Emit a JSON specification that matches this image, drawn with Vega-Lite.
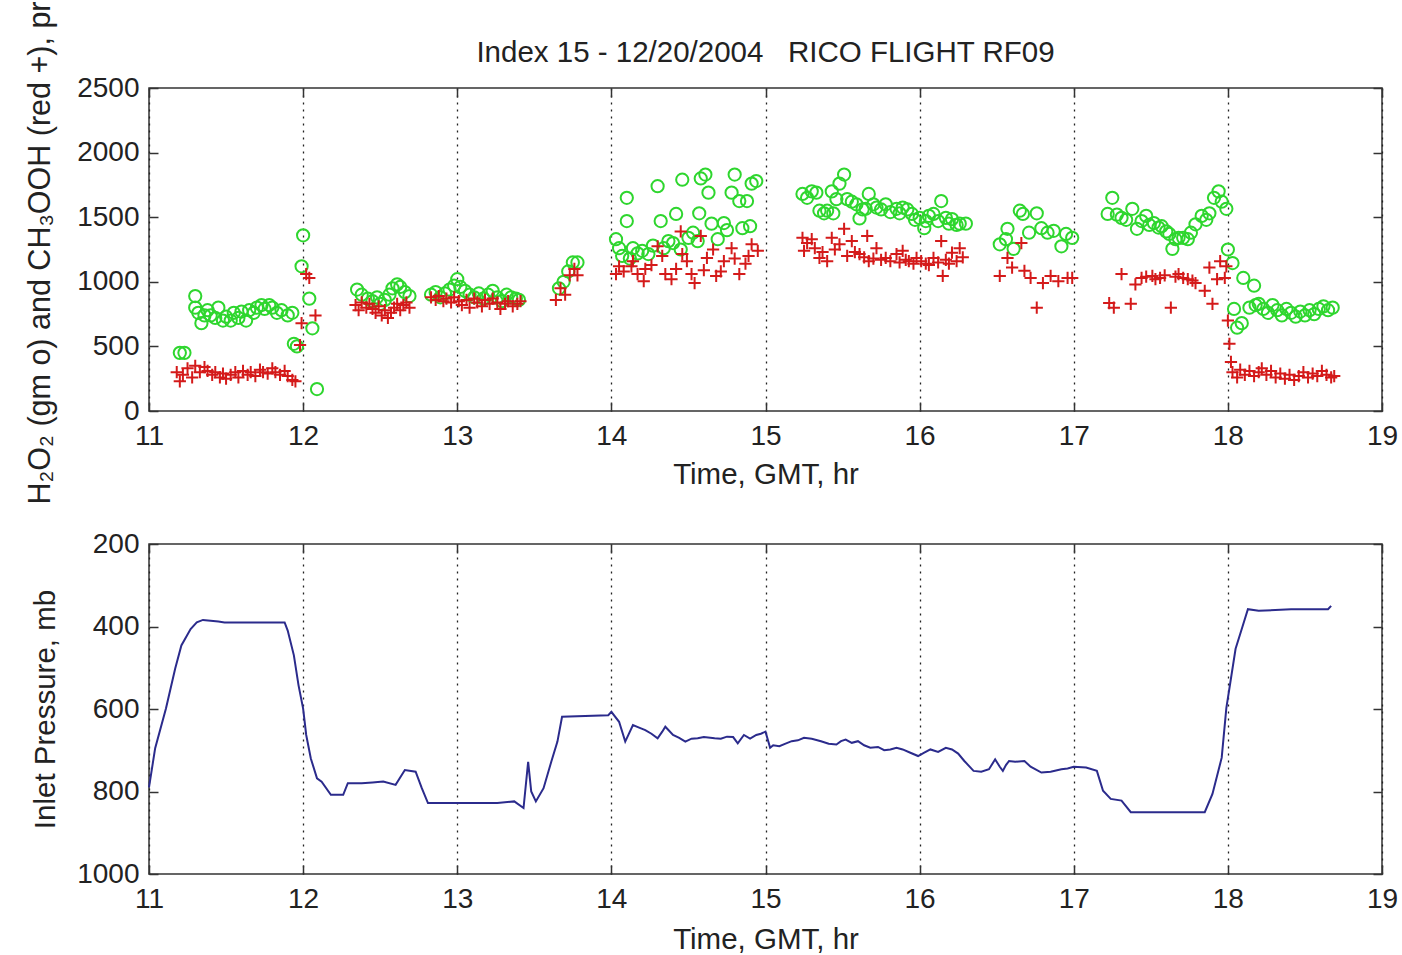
{
  "$schema": "https://vega.github.io/schema/vega-lite/v6.json",
  "background": "white",
  "padding": {"left": 24, "top": 0, "right": 5, "bottom": 0},
  "title": {"text": "Index 15 - 12/20/2004\u00a0\u00a0\u00a0RICO FLIGHT RF09", "anchor": "middle", "frame": "group", "font": "Liberation Sans", "fontSize": 29.5, "fontWeight": "normal", "color": "#222", "offset": -68},
  "spacing": 133,
  "bounds": "flush",
  "datasets": {
    "h2o2": [
      {"t":11.2,"v":450},{"t":11.23,"v":450},{"t":11.3,"v":890},{"t":11.3,"v":800},{"t":11.32,"v":760},{"t":11.34,"v":680},{"t":11.36,"v":740},{"t":11.38,"v":780},{"t":11.4,"v":740},{"t":11.43,"v":720},{"t":11.45,"v":800},{"t":11.48,"v":700},{"t":11.5,"v":730},{"t":11.53,"v":700},{"t":11.55,"v":760},{"t":11.58,"v":720},{"t":11.6,"v":770},{"t":11.63,"v":700},{"t":11.65,"v":780},{"t":11.68,"v":760},{"t":11.7,"v":800},{"t":11.73,"v":820},{"t":11.75,"v":790},{"t":11.78,"v":820},{"t":11.8,"v":800},{"t":11.83,"v":760},{"t":11.86,"v":780},{"t":11.9,"v":740},{"t":11.93,"v":760},{"t":11.94,"v":520},{"t":11.96,"v":500},{"t":11.99,"v":1120},{"t":12.0,"v":1360},{"t":12.04,"v":870},{"t":12.06,"v":640},{"t":12.09,"v":170},
      {"t":12.35,"v":940},{"t":12.38,"v":900},{"t":12.42,"v":870},{"t":12.45,"v":850},{"t":12.48,"v":880},{"t":12.5,"v":830},{"t":12.53,"v":860},{"t":12.56,"v":900},{"t":12.58,"v":950},{"t":12.61,"v":980},{"t":12.63,"v":960},{"t":12.66,"v":920},{"t":12.69,"v":890},
      {"t":12.83,"v":900},{"t":12.86,"v":920},{"t":12.89,"v":880},{"t":12.92,"v":910},{"t":12.95,"v":940},{"t":12.98,"v":970},{"t":13.0,"v":1020},{"t":13.02,"v":960},{"t":13.05,"v":930},{"t":13.08,"v":900},{"t":13.11,"v":880},{"t":13.14,"v":910},{"t":13.17,"v":870},{"t":13.2,"v":900},{"t":13.23,"v":930},{"t":13.26,"v":880},{"t":13.29,"v":850},{"t":13.32,"v":900},{"t":13.35,"v":880},{"t":13.38,"v":870},{"t":13.4,"v":860},
      {"t":13.66,"v":950},{"t":13.69,"v":1000},{"t":13.72,"v":1080},{"t":13.75,"v":1150},{"t":13.78,"v":1150},
      {"t":14.03,"v":1330},{"t":14.05,"v":1260},{"t":14.07,"v":1200},{"t":14.1,"v":1650},{"t":14.1,"v":1470},{"t":14.12,"v":1180},{"t":14.14,"v":1260},{"t":14.17,"v":1220},{"t":14.2,"v":1240},{"t":14.24,"v":1215},{"t":14.27,"v":1280},{"t":14.3,"v":1740},{"t":14.32,"v":1470},{"t":14.34,"v":1260},{"t":14.37,"v":1315},{"t":14.4,"v":1300},{"t":14.42,"v":1525},{"t":14.45,"v":1250},{"t":14.46,"v":1790},{"t":14.5,"v":1340},{"t":14.53,"v":1380},{"t":14.56,"v":1315},{"t":14.57,"v":1530},{"t":14.58,"v":1800},{"t":14.61,"v":1830},{"t":14.63,"v":1690},{"t":14.65,"v":1450},{"t":14.69,"v":1330},{"t":14.73,"v":1455},{"t":14.75,"v":1400},{"t":14.78,"v":1690},{"t":14.8,"v":1830},{"t":14.83,"v":1625},{"t":14.85,"v":1415},{"t":14.88,"v":1625},{"t":14.9,"v":1430},{"t":14.91,"v":1760},{"t":14.94,"v":1780},
      {"t":15.24,"v":1680},{"t":15.27,"v":1650},{"t":15.3,"v":1700},{"t":15.33,"v":1690},{"t":15.35,"v":1550},{"t":15.38,"v":1530},{"t":15.4,"v":1550},{"t":15.43,"v":1700},{"t":15.44,"v":1530},{"t":15.46,"v":1640},{"t":15.48,"v":1760},{"t":15.51,"v":1830},{"t":15.53,"v":1640},{"t":15.56,"v":1620},{"t":15.59,"v":1600},{"t":15.61,"v":1490},{"t":15.63,"v":1560},{"t":15.65,"v":1565},{"t":15.67,"v":1680},{"t":15.7,"v":1600},{"t":15.72,"v":1575},{"t":15.75,"v":1560},{"t":15.78,"v":1600},{"t":15.81,"v":1540},{"t":15.85,"v":1565},{"t":15.87,"v":1530},{"t":15.89,"v":1575},{"t":15.92,"v":1560},{"t":15.95,"v":1525},{"t":15.97,"v":1480},{"t":16.0,"v":1495},{"t":16.03,"v":1415},{"t":16.04,"v":1470},{"t":16.06,"v":1510},{"t":16.09,"v":1525},{"t":16.12,"v":1470},{"t":16.14,"v":1625},{"t":16.17,"v":1495},{"t":16.19,"v":1450},{"t":16.21,"v":1485},{"t":16.24,"v":1440},{"t":16.26,"v":1450},{"t":16.3,"v":1450},
      {"t":16.52,"v":1290},{"t":16.56,"v":1330},{"t":16.57,"v":1410},{"t":16.61,"v":1255},{"t":16.65,"v":1550},{"t":16.67,"v":1525},{"t":16.71,"v":1380},{"t":16.76,"v":1530},{"t":16.79,"v":1415},{"t":16.83,"v":1380},{"t":16.87,"v":1395},{"t":16.92,"v":1275},{"t":16.95,"v":1370},{"t":16.99,"v":1340},
      {"t":17.22,"v":1525},{"t":17.25,"v":1650},{"t":17.28,"v":1520},{"t":17.31,"v":1495},{"t":17.34,"v":1480},{"t":17.38,"v":1565},{"t":17.41,"v":1410},{"t":17.44,"v":1470},{"t":17.47,"v":1510},{"t":17.49,"v":1440},{"t":17.52,"v":1455},{"t":17.55,"v":1420},{"t":17.57,"v":1430},{"t":17.6,"v":1390},{"t":17.62,"v":1370},{"t":17.64,"v":1255},{"t":17.66,"v":1330},{"t":17.68,"v":1340},{"t":17.71,"v":1340},{"t":17.74,"v":1330},{"t":17.76,"v":1380},{"t":17.79,"v":1445},{"t":17.83,"v":1510},{"t":17.86,"v":1480},{"t":17.88,"v":1530},{"t":17.91,"v":1650},{"t":17.94,"v":1700},{"t":17.96,"v":1620},{"t":17.99,"v":1565},
      {"t":18.0,"v":1250},{"t":18.03,"v":1145},{"t":18.04,"v":790},{"t":18.06,"v":645},{"t":18.09,"v":680},{"t":18.1,"v":1030},{"t":18.14,"v":800},{"t":18.17,"v":970},{"t":18.18,"v":820},{"t":18.2,"v":830},{"t":18.23,"v":790},{"t":18.26,"v":760},{"t":18.29,"v":820},{"t":18.32,"v":780},{"t":18.35,"v":740},{"t":18.38,"v":790},{"t":18.41,"v":760},{"t":18.44,"v":730},{"t":18.47,"v":770},{"t":18.5,"v":740},{"t":18.53,"v":780},{"t":18.56,"v":750},{"t":18.59,"v":790},{"t":18.62,"v":810},{"t":18.65,"v":780},{"t":18.68,"v":800}
    ],
    "ch3ooh": [
      {"t":11.18,"v":300},{"t":11.2,"v":230},{"t":11.22,"v":280},{"t":11.25,"v":330},{"t":11.28,"v":260},{"t":11.3,"v":350},{"t":11.33,"v":300},{"t":11.36,"v":340},{"t":11.38,"v":310},{"t":11.41,"v":280},{"t":11.43,"v":300},{"t":11.46,"v":260},{"t":11.48,"v":290},{"t":11.5,"v":250},{"t":11.53,"v":280},{"t":11.56,"v":300},{"t":11.58,"v":260},{"t":11.61,"v":310},{"t":11.64,"v":280},{"t":11.66,"v":300},{"t":11.69,"v":270},{"t":11.72,"v":320},{"t":11.74,"v":300},{"t":11.77,"v":290},{"t":11.8,"v":330},{"t":11.82,"v":300},{"t":11.85,"v":280},{"t":11.88,"v":310},{"t":11.9,"v":270},{"t":11.93,"v":240},{"t":11.95,"v":230},{"t":11.98,"v":510},{"t":11.99,"v":680},{"t":12.02,"v":1060},{"t":12.04,"v":1030},{"t":12.08,"v":740},
      {"t":12.34,"v":820},{"t":12.36,"v":780},{"t":12.38,"v":840},{"t":12.41,"v":800},{"t":12.43,"v":830},{"t":12.45,"v":790},{"t":12.47,"v":760},{"t":12.49,"v":810},{"t":12.51,"v":740},{"t":12.53,"v":780},{"t":12.55,"v":720},{"t":12.57,"v":760},{"t":12.59,"v":800},{"t":12.61,"v":830},{"t":12.63,"v":780},{"t":12.65,"v":820},{"t":12.67,"v":840},{"t":12.69,"v":800},
      {"t":12.83,"v":880},{"t":12.86,"v":860},{"t":12.88,"v":890},{"t":12.91,"v":850},{"t":12.93,"v":870},{"t":12.96,"v":840},{"t":12.98,"v":880},{"t":13.01,"v":850},{"t":13.03,"v":820},{"t":13.06,"v":860},{"t":13.08,"v":800},{"t":13.11,"v":870},{"t":13.13,"v":840},{"t":13.16,"v":810},{"t":13.18,"v":860},{"t":13.21,"v":830},{"t":13.23,"v":870},{"t":13.26,"v":840},{"t":13.28,"v":790},{"t":13.31,"v":830},{"t":13.33,"v":850},{"t":13.36,"v":810},{"t":13.39,"v":830},{"t":13.41,"v":850},
      {"t":13.64,"v":860},{"t":13.67,"v":950},{"t":13.7,"v":900},{"t":13.73,"v":1050},{"t":13.76,"v":1100},{"t":13.78,"v":1050},
      {"t":14.03,"v":1060},{"t":14.05,"v":1120},{"t":14.08,"v":1080},{"t":14.13,"v":1120},{"t":14.14,"v":1160},{"t":14.17,"v":1060},{"t":14.21,"v":1005},{"t":14.22,"v":1100},{"t":14.26,"v":1130},{"t":14.3,"v":1275},{"t":14.33,"v":1200},{"t":14.35,"v":1060},{"t":14.39,"v":1020},{"t":14.42,"v":1100},{"t":14.45,"v":1390},{"t":14.46,"v":1215},{"t":14.49,"v":1160},{"t":14.52,"v":1060},{"t":14.54,"v":990},{"t":14.58,"v":1355},{"t":14.6,"v":1090},{"t":14.62,"v":1185},{"t":14.66,"v":1250},{"t":14.68,"v":1045},{"t":14.71,"v":1080},{"t":14.73,"v":1160},{"t":14.78,"v":1260},{"t":14.8,"v":1180},{"t":14.83,"v":1060},{"t":14.87,"v":1140},{"t":14.89,"v":1200},{"t":14.91,"v":1290},{"t":14.95,"v":1240},
      {"t":15.24,"v":1340},{"t":15.25,"v":1240},{"t":15.27,"v":1300},{"t":15.3,"v":1330},{"t":15.32,"v":1260},{"t":15.35,"v":1185},{"t":15.37,"v":1230},{"t":15.4,"v":1160},{"t":15.43,"v":1340},{"t":15.45,"v":1250},{"t":15.48,"v":1290},{"t":15.51,"v":1410},{"t":15.53,"v":1200},{"t":15.56,"v":1315},{"t":15.58,"v":1230},{"t":15.61,"v":1215},{"t":15.64,"v":1190},{"t":15.66,"v":1355},{"t":15.67,"v":1160},{"t":15.7,"v":1180},{"t":15.72,"v":1260},{"t":15.75,"v":1170},{"t":15.78,"v":1185},{"t":15.81,"v":1160},{"t":15.85,"v":1215},{"t":15.87,"v":1150},{"t":15.89,"v":1240},{"t":15.91,"v":1170},{"t":15.93,"v":1160},{"t":15.96,"v":1140},{"t":15.98,"v":1185},{"t":16.01,"v":1160},{"t":16.04,"v":1140},{"t":16.06,"v":1130},{"t":16.09,"v":1185},{"t":16.12,"v":1150},{"t":16.14,"v":1315},{"t":16.15,"v":1045},{"t":16.17,"v":1170},{"t":16.19,"v":1140},{"t":16.21,"v":1225},{"t":16.24,"v":1160},{"t":16.26,"v":1260},{"t":16.28,"v":1190},
      {"t":16.52,"v":1045},{"t":16.57,"v":1185},{"t":16.6,"v":1110},{"t":16.66,"v":1300},{"t":16.68,"v":1085},{"t":16.72,"v":1030},{"t":16.76,"v":800},{"t":16.8,"v":990},{"t":16.85,"v":1045},{"t":16.9,"v":1005},{"t":16.96,"v":1030},{"t":16.99,"v":1030},
      {"t":17.23,"v":835},{"t":17.26,"v":800},{"t":17.31,"v":1060},{"t":17.37,"v":830},{"t":17.4,"v":980},{"t":17.44,"v":1030},{"t":17.47,"v":1040},{"t":17.51,"v":1045},{"t":17.53,"v":1020},{"t":17.56,"v":1030},{"t":17.59,"v":1050},{"t":17.63,"v":800},{"t":17.66,"v":1040},{"t":17.68,"v":1060},{"t":17.71,"v":1030},{"t":17.74,"v":1020},{"t":17.77,"v":1010},{"t":17.79,"v":990},{"t":17.85,"v":930},{"t":17.88,"v":1110},{"t":17.9,"v":830},{"t":17.93,"v":1020},{"t":17.95,"v":1160},{"t":17.98,"v":1030},{"t":17.99,"v":1120},{"t":18.0,"v":700},{"t":18.01,"v":520},{"t":18.02,"v":380},
      {"t":18.03,"v":300},{"t":18.06,"v":260},{"t":18.08,"v":320},{"t":18.11,"v":280},{"t":18.14,"v":310},{"t":18.17,"v":270},{"t":18.2,"v":300},{"t":18.22,"v":330},{"t":18.25,"v":280},{"t":18.28,"v":310},{"t":18.31,"v":260},{"t":18.34,"v":290},{"t":18.37,"v":250},{"t":18.4,"v":280},{"t":18.43,"v":240},{"t":18.46,"v":270},{"t":18.49,"v":300},{"t":18.52,"v":260},{"t":18.55,"v":290},{"t":18.58,"v":270},{"t":18.61,"v":310},{"t":18.64,"v":280},{"t":18.67,"v":260},{"t":18.69,"v":270}
    ],
    "pressure": [
      {"t":11.0,"p":790},{"t":11.04,"p":695},{"t":11.11,"p":599},{"t":11.17,"p":502},{"t":11.21,"p":446},{"t":11.27,"p":406},{"t":11.31,"p":390},{"t":11.35,"p":384},{"t":11.4,"p":386},{"t":11.45,"p":388},{"t":11.49,"p":390},{"t":11.6,"p":390},{"t":11.75,"p":390},{"t":11.88,"p":390},{"t":11.9,"p":410},{"t":11.94,"p":470},{"t":11.97,"p":542},{"t":12.0,"p":599},{"t":12.02,"p":663},{"t":12.05,"p":720},{"t":12.09,"p":768},{"t":12.12,"p":776},{"t":12.18,"p":808},{"t":12.26,"p":808},{"t":12.29,"p":780},{"t":12.38,"p":780},{"t":12.45,"p":778},{"t":12.52,"p":776},{"t":12.6,"p":784},{"t":12.66,"p":748},{"t":12.73,"p":752},{"t":12.77,"p":792},{"t":12.81,"p":828},{"t":13.0,"p":828},{"t":13.26,"p":828},{"t":13.37,"p":824},{"t":13.43,"p":840},{"t":13.46,"p":728},{"t":13.48,"p":800},{"t":13.51,"p":824},{"t":13.56,"p":792},{"t":13.61,"p":728},{"t":13.65,"p":679},{"t":13.68,"p":619},{"t":13.98,"p":615},{"t":14.0,"p":607},{"t":14.05,"p":631},{"t":14.09,"p":679},{"t":14.14,"p":639},{"t":14.18,"p":645},{"t":14.22,"p":651},{"t":14.26,"p":660},{"t":14.3,"p":671},{"t":14.33,"p":655},{"t":14.35,"p":643},{"t":14.4,"p":663},{"t":14.44,"p":670},{"t":14.48,"p":679},{"t":14.52,"p":672},{"t":14.56,"p":671},{"t":14.6,"p":668},{"t":14.67,"p":671},{"t":14.71,"p":672},{"t":14.75,"p":667},{"t":14.79,"p":668},{"t":14.82,"p":683},{"t":14.86,"p":663},{"t":14.9,"p":672},{"t":14.94,"p":663},{"t":14.97,"p":660},{"t":15.0,"p":655},{"t":15.03,"p":694},{"t":15.05,"p":688},{"t":15.09,"p":690},{"t":15.13,"p":684},{"t":15.17,"p":678},{"t":15.21,"p":676},{"t":15.25,"p":670},{"t":15.3,"p":672},{"t":15.36,"p":678},{"t":15.41,"p":684},{"t":15.46,"p":686},{"t":15.49,"p":678},{"t":15.52,"p":674},{"t":15.56,"p":682},{"t":15.6,"p":678},{"t":15.64,"p":688},{"t":15.68,"p":694},{"t":15.73,"p":692},{"t":15.77,"p":700},{"t":15.81,"p":698},{"t":15.85,"p":694},{"t":15.89,"p":698},{"t":15.94,"p":706},{"t":15.99,"p":714},{"t":16.03,"p":706},{"t":16.07,"p":698},{"t":16.12,"p":704},{"t":16.17,"p":694},{"t":16.21,"p":698},{"t":16.25,"p":708},{"t":16.29,"p":726},{"t":16.35,"p":750},{"t":16.4,"p":752},{"t":16.45,"p":746},{"t":16.49,"p":722},{"t":16.52,"p":740},{"t":16.54,"p":750},{"t":16.56,"p":736},{"t":16.58,"p":726},{"t":16.62,"p":728},{"t":16.68,"p":726},{"t":16.72,"p":740},{"t":16.79,"p":754},{"t":16.85,"p":752},{"t":16.92,"p":746},{"t":16.96,"p":744},{"t":17.0,"p":740},{"t":17.08,"p":742},{"t":17.15,"p":750},{"t":17.19,"p":798},{"t":17.24,"p":818},{"t":17.31,"p":822},{"t":17.37,"p":850},{"t":17.6,"p":850},{"t":17.85,"p":850},{"t":17.9,"p":806},{"t":17.96,"p":718},{"t":17.99,"p":598},{"t":18.05,"p":454},{"t":18.09,"p":406},{"t":18.13,"p":358},{"t":18.2,"p":362},{"t":18.41,"p":358},{"t":18.65,"p":358},{"t":18.67,"p":350}
    ]
  },
  "vconcat": [
    {
      "width": 1233,
      "height": 323,
      "layer": [
        {
          "data": {"name": "h2o2"},
          "mark": {"type": "point", "shape": "circle", "filled": false, "stroke": "#2ed62e", "strokeWidth": 2, "size": 150, "opacity": 1},
          "encoding": {
            "x": {"field": "t", "type": "quantitative", "scale": {"domain": [11, 19], "nice": false, "zero": false},
                  "axis": {"values": [11,12,13,14,15,16,17,18,19], "format": "d", "grid": true, "gridDash": [2,5], "gridColor": "#222", "gridWidth": 1.3, "title": "Time, GMT, hr", "labelPadding": 20, "titlePadding": 10}},
            "y": {"field": "v", "type": "quantitative", "scale": {"domain": [0, 2500], "nice": false, "zero": false},
                  "axis": {"values": [0,500,1000,1500,2000,2500], "format": "d", "title": "H₂O₂ (gm o) and CH₃OOH (red +), pr", "titleFontSize": 30.5, "titleAlign": "left", "titleY": 416, "labelPadding": 19, "titlePadding": 21}}
          }
        },
        {
          "data": {"name": "ch3ooh"},
          "mark": {"type": "point", "shape": "M-1,0H1M0,-1V1", "filled": false, "stroke": "#d41a1a", "strokeWidth": 2, "size": 150, "opacity": 1},
          "encoding": {
            "x": {"field": "t", "type": "quantitative", "scale": {"domain": [11, 19], "nice": false, "zero": false}, "axis": null},
            "y": {"field": "v", "type": "quantitative", "scale": {"domain": [0, 2500], "nice": false, "zero": false}, "axis": null}
          }
        },
        {
          "data": {"name": "h2o2"},
          "mark": {"type": "point", "opacity": 0},
          "encoding": {
            "x": {"field": "t", "type": "quantitative", "scale": {"domain": [11, 19], "nice": false, "zero": false},
                  "axis": {"orient": "top", "labels": false, "title": null, "grid": false, "values": [11,12,13,14,15,16,17,18,19]}},
            "y": {"field": "v", "type": "quantitative", "scale": {"domain": [0, 2500], "nice": false, "zero": false},
                  "axis": {"orient": "right", "labels": false, "title": null, "values": [0,500,1000,1500,2000,2500]}}
          }
        }
      ],
      "resolve": {"axis": {"x": "independent", "y": "independent"}}
    },
    {
      "width": 1233,
      "height": 330,
      "layer": [
        {
          "data": {"name": "pressure"},
          "mark": {"type": "line", "color": "#2b2b8c", "strokeWidth": 2},
          "encoding": {
            "x": {"field": "t", "type": "quantitative", "scale": {"domain": [11, 19], "nice": false, "zero": false},
                  "axis": {"values": [11,12,13,14,15,16,17,18,19], "format": "d", "grid": true, "gridDash": [2,5], "gridColor": "#222", "gridWidth": 1.3, "title": "Time, GMT, hr", "labelPadding": 20, "titlePadding": 12}},
            "y": {"field": "p", "type": "quantitative", "scale": {"domain": [200, 1000], "nice": false, "zero": false, "reverse": true},
                  "axis": {"values": [200,400,600,800,1000], "format": "d", "title": "Inlet Pressure, mb", "labelPadding": 19, "titlePadding": 16}}
          }
        },
        {
          "data": {"name": "pressure"},
          "mark": {"type": "point", "opacity": 0},
          "encoding": {
            "x": {"field": "t", "type": "quantitative", "scale": {"domain": [11, 19], "nice": false, "zero": false},
                  "axis": {"orient": "top", "labels": false, "title": null, "grid": false, "values": [11,12,13,14,15,16,17,18,19]}},
            "y": {"field": "p", "type": "quantitative", "scale": {"domain": [200, 1000], "nice": false, "zero": false, "reverse": true},
                  "axis": {"orient": "right", "labels": false, "title": null, "values": [200,400,600,800,1000]}}
          }
        }
      ],
      "resolve": {"axis": {"x": "independent", "y": "independent"}}
    }
  ],
  "config": {
    "view": {"stroke": "#333", "strokeWidth": 1.5},
    "axis": {"domain": false, "ticks": true, "tickSize": -9, "tickColor": "#333", "tickWidth": 1.5, "labelFont": "Liberation Sans", "labelFontSize": 28, "labelColor": "#222", "titleFont": "Liberation Sans", "titleFontSize": 29.5, "titleFontWeight": "normal", "titleColor": "#222", "grid": false, "labelFlush": false, "labelOverlap": false}
  }
}
